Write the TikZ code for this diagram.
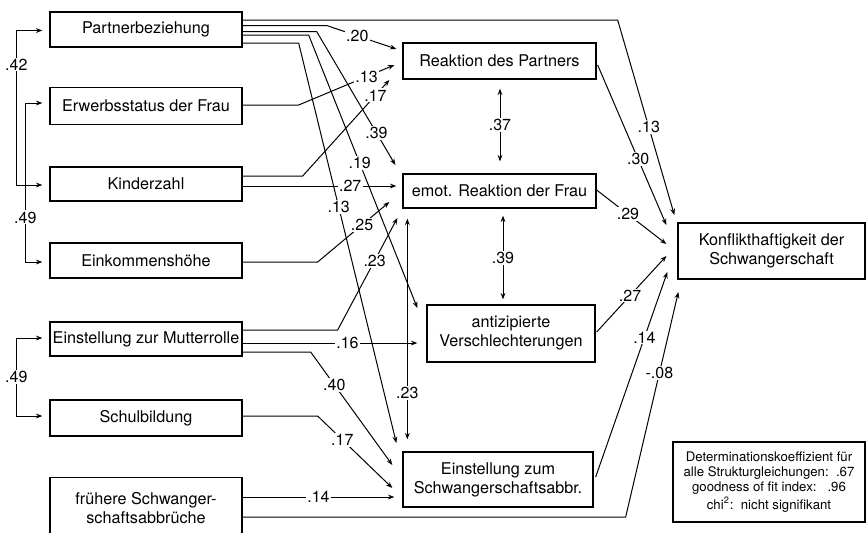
\documentclass[tikz,border=0pt]{standalone}
\usepackage{fontspec}
\setmainfont{TeX Gyre Heros}
\usetikzlibrary{arrows.meta}

\begin{document}
\begin{tikzpicture}[x=0.5pt, y=-0.5pt,
    box/.style={draw, line width=0.65pt, align=center, inner sep=1pt,
        font=\fontsize{8.1}{9.5}\selectfont},
    lbl/.style={fill=white, inner sep=0.6pt, font=\fontsize{8}{9}\selectfont},
    arr/.style={-{Stealth[length=3.2pt,width=2.4pt]}, line width=0.5pt},
    dbl/.style={{Stealth[length=3.2pt,width=2.4pt]}-{Stealth[length=3.2pt,width=2.4pt]}, line width=0.5pt}]

    \useasboundingbox (0,0) rectangle (867,532);

    % exogene Variablen (links)
    \node[box, minimum width=96pt, minimum height=17.5pt] (partner) at (146,29.5) {Partnerbeziehung};
    \node[box, minimum width=96pt, minimum height=18.5pt] (erwerb) at (146,106) {Erwerbsstatus der Frau};
    \node[box, minimum width=96pt, minimum height=17pt] (kinder) at (146,184) {Kinderzahl};
    \node[box, minimum width=96pt, minimum height=17.5pt] (einkommen) at (146,260.5) {Einkommenshöhe};
    \node[box, minimum width=96pt, minimum height=17pt] (mutter) at (146,339) {Einstellung zur Mutterrolle};
    \node[box, minimum width=96pt, minimum height=18pt] (schul) at (146,418) {Schulbildung};
    \node[box, minimum width=96pt, minimum height=31pt] (frueher) at (146,508.5) {frühere Schwanger-\\schaftsabbrüche};

    % vermittelnde Variablen (Mitte)
    \node[box, minimum width=96.5pt, minimum height=18pt] (reaktion) at (499.5,61) {Reaktion des Partners};
    \node[box, minimum width=96.5pt, minimum height=17pt] (emot) at (499.5,191) {emot. Reaktion der Frau};
    \node[box, minimum width=84pt, minimum height=28.5pt] (antiz) at (511,333.5) {antizipierte\\Verschlechterungen};
    \node[box, minimum width=95pt, minimum height=27.5pt] (abbr) at (498,479.5) {Einstellung zum\\Schwangerschaftsabbr.};

    % Kriterium und Kennwerte
    \node[box, minimum width=93.5pt, minimum height=28pt] (konflikt) at (771.5,251) {Konflikthaftigkeit der\\Schwangerschaft};
    \node[box, minimum width=96pt, minimum height=40pt, font=\fontsize{6.6}{7.5}\selectfont] (legende) at (769,482)
        {Determinationskoeffizient für\\alle Strukturgleichungen:\ \ .67\\goodness of fit index:\ \ \ .96\\chi\textsuperscript{2}:\ \ nicht signifikant};

    % Korrelationen links
    \draw[dbl] ([shift={(-7,1)}]partner.west) -| node[lbl, pos=0.61] {.42} ([shift={(-33,1)}]kinder.west)
        -- ([shift={(-7,1)}]kinder.west);
    \draw[dbl] ([shift={(-7,-3)}]erwerb.west) -| node[lbl, pos=0.86] {.49} ([shift={(-24,1.5)}]einkommen.west)
        -- ([shift={(-7,1.5)}]einkommen.west);
    \draw[dbl] ([shift={(-7,-1)}]mutter.west) -| node[lbl, pos=0.75] {.49} ([shift={(-33,-2)}]schul.west)
        -- ([shift={(-7,-2)}]schul.west);

    % Partnerbeziehung
    \draw[arr] ([shift={(0,-9.5)}]partner.east) -- ++(375,0)
        -- ([shift={(-3,-36)}]konflikt.west) node[lbl, pos=0.55] {.13};
    \draw[arr] ([shift={(0,-4)}]partner.east) -- ++(84,0)
        -- ([shift={(-6,-12)}]reaktion.west) node[lbl, pos=0.44] {.20};
    \draw[arr] ([shift={(0,2)}]partner.east) -- ++(74,0)
        -- ([shift={(-7,-26)}]emot.west) node[lbl, pos=0.76] {.39};
    \draw[arr] ([shift={(0,5.5)}]partner.east) -- ++(66,0)
        -- ([shift={(-9,-25.5)}]antiz.west) node[lbl, pos=0.47] {.19};
    \draw[arr] ([shift={(0,13.5)}]partner.east) -- ++(56,0)
        -- ([shift={(-6,-36.5)}]abbr.west) node[lbl, pos=0.41] {.13};

    % Erwerbsstatus, Kinderzahl, Einkommen
    \draw[arr] ([shift={(0,-1)}]erwerb.east) -- ++(56,0)
        -- ([shift={(-8,4)}]reaktion.west) node[lbl, pos=0.71] {.13};
    \draw[arr] ([shift={(0,-8)}]kinder.east) -- ++(60,0)
        -- ([shift={(-13,19)}]reaktion.west) node[lbl, pos=0.84] {.17};
    \draw[arr] ([shift={(0,2)}]kinder.east)
        -- ([shift={(-6,-5)}]emot.west) node[lbl, pos=0.7] {.27};
    \draw[arr] ([shift={(0,1.5)}]einkommen.east) -- ++(75,0)
        -- ([shift={(-13,11)}]emot.west) node[lbl, pos=0.62] {.25};

    % Einstellung zur Mutterrolle, Schulbildung, fruehere Abbrueche
    \draw[arr] ([shift={(0,-9)}]mutter.east) -- ++(95,0)
        -- ([shift={(-5,27)}]emot.west) node[lbl, pos=0.62] {.23};
    \draw[arr] ([shift={(0,4)}]mutter.east)
        -- ([shift={(-9,9.5)}]antiz.west) node[lbl, pos=0.6] {.16};
    \draw[arr] ([shift={(0,13)}]mutter.east) -- ++(68,0)
        -- ([shift={(-10,-14.5)}]abbr.west) node[lbl, pos=0.29] {.40};
    \draw[arr] ([shift={(0,-2)}]schul.east) -- ++(75,0)
        -- ([shift={(-10,8.5)}]abbr.west) node[lbl, pos=0.33] {.17};
    \draw[arr] ([shift={(0,-11.5)}]frueher.east)
        -- ([shift={(-8,17.5)}]abbr.west) node[lbl, pos=0.5] {.14};
    \draw[arr] ([shift={(0,8.5)}]frueher.east) -- ++(383,0)
        -- ([shift={(1,41)}]konflikt.west) node[lbl, pos=0.64] {-.08};

    % Korrelationen Mitte
    \draw[dbl] ([shift={(0.5,9)}]reaktion.south) -- ([shift={(0.5,-12)}]emot.north) node[lbl, pos=0.5] {.37};
    \draw[dbl] ([shift={(3.5,7)}]emot.south) -- ([shift={(-8,-5)}]antiz.north) node[lbl, pos=0.5] {.39};
    \draw[dbl] ([shift={(5,10)}]emot.south west) -- ([shift={(5,-12)}]abbr.north west) node[lbl, pos=0.79] {.23};

    % Pfade auf die Konflikthaftigkeit
    \draw[arr] ([shift={(1,4)}]reaktion.east) -- ([shift={(-11,-26)}]konflikt.west) node[lbl, pos=0.59] {.30};
    \draw[arr] ([shift={(0,-1)}]emot.east) -- ([shift={(-11,-7)}]konflikt.west) node[lbl, pos=0.45] {.29};
    \draw[arr] ([shift={(1,-1.5)}]antiz.east) -- ([shift={(-11,5)}]konflikt.west) node[lbl, pos=0.48] {.27};
    \draw[arr] ([shift={(2,-2.5)}]abbr.east) -- ([shift={(-10,21)}]konflikt.west) node[lbl, pos=0.68] {.14};
\end{tikzpicture}
\end{document}
